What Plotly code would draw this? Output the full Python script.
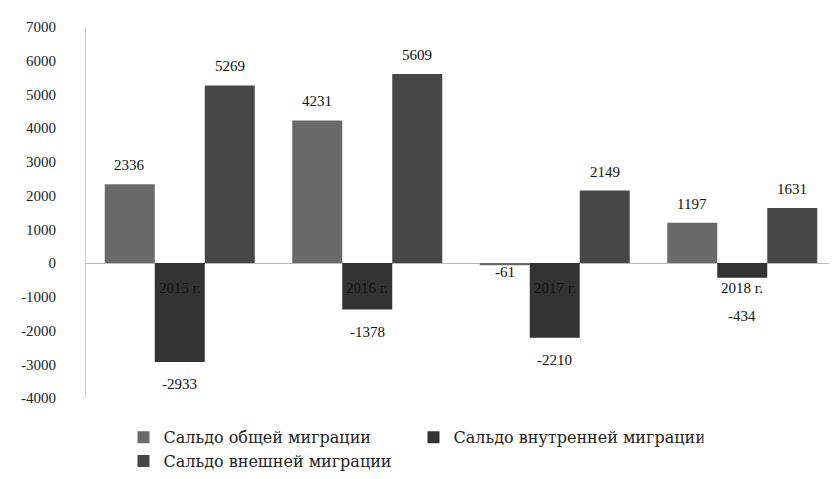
import plotly.graph_objects as go

categories = ["2015 г.", "2016 г.", "2017 г.", "2018 г."]
series_names = ["Сальдо общей миграции", "Сальдо внутренней миграции", "Сальдо внешней миграции"]
total_values = [2336, 4231, -61, 1197]
internal_values = [-2933, -1378, -2210, -434]
external_values = [5269, 5609, 2149, 1631]
y_ticks = list(range(-4000, 7001, 1000))

# styling
colors = ["#6a6a6a", "#333333", "#474747"]
font_family = "Liberation Serif, Times New Roman, serif"
legend_font = "DejaVu Serif, Liberation Serif, serif"
bar_px = 50                      # width of one bar in pixels (for label offsets)
label_nudge = {(2, 0): -7, (3, 1): -38}   # (category index, series index) -> yshift

all_series = [total_values, internal_values, external_values]

fig = go.Figure()
for name, vals, col in zip(series_names, all_series, colors):
    fig.add_trace(go.Bar(
        x=categories, y=vals, name=name,
        marker=dict(color=col, line=dict(width=0)),
        hoverinfo="x+y+name",
    ))

for si, vals in enumerate(all_series):
    for ci, v in enumerate(vals):
        ys = label_nudge.get((ci, si), 19 if v > 0 else -22)
        fig.add_annotation(x=categories[ci], y=v, xref="x", yref="y", text=str(v),
                           showarrow=False, xshift=(si - 1) * bar_px, yshift=ys,
                           font=dict(family=font_family, size=15, color="#111111"))

for c in categories:
    fig.add_annotation(x=c, y=0, xref="x", yref="y", text=c, showarrow=False,
                       yshift=-25, font=dict(family=font_family, size=15, color="#111111"))

fig.update_layout(
    width=837, height=479,
    margin=dict(l=78, r=9, t=19, b=82),
    paper_bgcolor="white", plot_bgcolor="white",
    barmode="group", bargap=0.2, bargroupgap=0,
    font=dict(family=font_family, size=14, color="#222222"),
    showlegend=True,
    legend=dict(orientation="h", x=0.05, xref="paper", y=-0.06, yanchor="top",
                entrywidth=245, font=dict(family=legend_font, size=16, color="#222222"),
                itemwidth=30, tracegroupgap=4),
)
fig.update_xaxes(showticklabels=False, showgrid=False, zeroline=False, showline=False, ticks="")
fig.update_yaxes(range=[-4000, 7000], tickvals=y_ticks, ticktext=[str(v) for v in y_ticks],
                 showgrid=False, zeroline=True, zerolinecolor="#bbbbbb", zerolinewidth=1,
                 showline=True, linecolor="#d0d0d0", linewidth=1,
                 tickfont=dict(family=font_family, size=15, color="#222222"), ticklabelstandoff=26)

fig.write_html("out.html")
